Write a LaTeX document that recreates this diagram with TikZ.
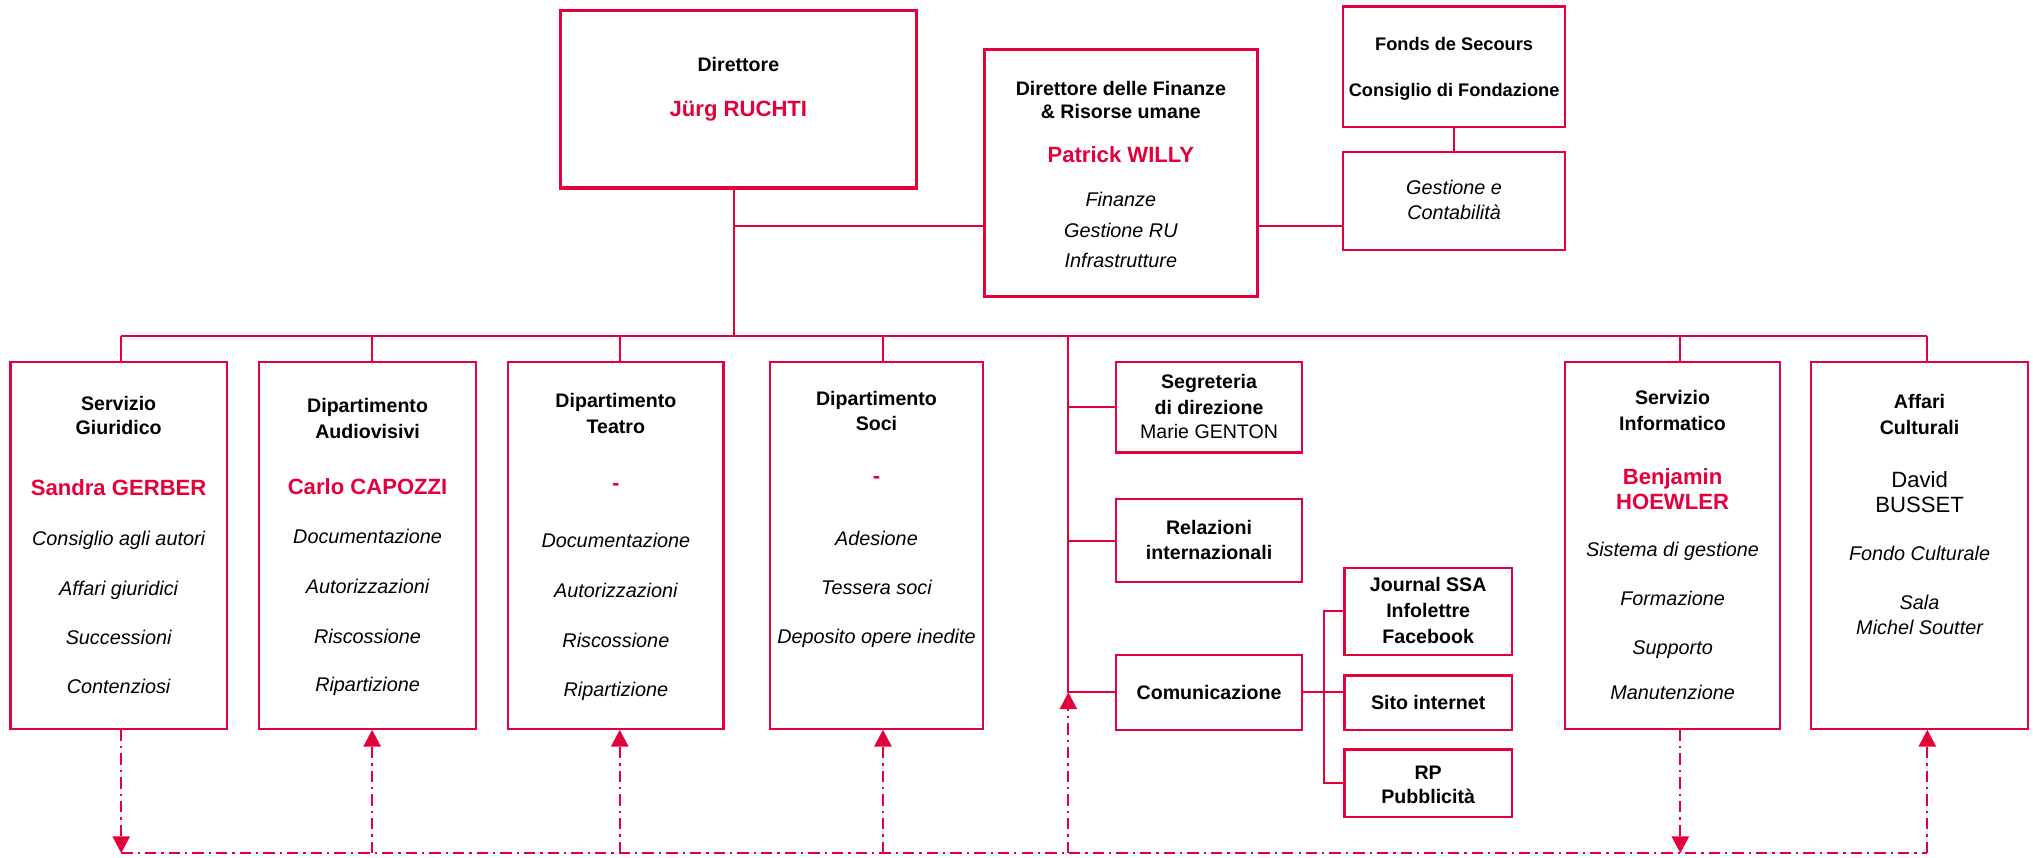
\documentclass[tikz,border=0pt]{standalone}
\usepackage{fontspec}
\setmainfont{Liberation Sans}
\usetikzlibrary{fit,arrows.meta}
\definecolor{ssared}{RGB}{228,0,58}

\begin{document}
\begin{tikzpicture}[x=0.02cm,y=-0.02cm]
\tikzstyle{unit}=[draw=ssared, line width=1pt, inner sep=0pt]
\tikzstyle{chief}=[unit, line width=1.4pt]
\tikzstyle{link}=[draw=ssared, line width=0.8pt]
\tikzstyle{flow}=[draw=ssared, line width=0.8pt, dash pattern=on 5pt off 2.2pt on 1pt off 2.2pt]
\tikzstyle{flowtip}=[flow, -{Triangle[length=7.4pt,width=7.6pt]}]
\tikzstyle{txt}=[inner sep=0pt, anchor=base, yshift=-3.1pt]
\tikzstyle{ttl}=[txt, font=\bfseries\fontsize{8.6}{10}\selectfont]
\tikzstyle{ttlsm}=[txt, font=\bfseries\fontsize{8}{10}\selectfont]
\tikzstyle{who}=[txt, yshift=-0.4pt, text=ssared, font=\bfseries\fontsize{9.7}{11}\selectfont]
\tikzstyle{duty}=[txt, font=\itshape\fontsize{8.7}{10}\selectfont]
\tikzstyle{reg}=[txt, font=\fontsize{8.6}{10}\selectfont]
\tikzstyle{regbig}=[txt, yshift=-0.4pt, font=\fontsize{9.7}{11}\selectfont]
\useasboundingbox (0,0) rectangle (1568,661);

\node[chief, fit={(432,8) (707,145)}] (dir) {};
\node[chief, fit={(759,38) (970,229)}] (fin) {};
\node[unit, fit={(1036,5) (1207,98)}] (fonds) {};
\node[unit, fit={(1036,117) (1207,193)}] (gest) {};

\node[unit, fit={(8,279) (175,562)}] (giur) {};
\node[unit, fit={(200,279) (367,562)}] (audio) {};
\node[unit, fit={(392,279) (558,562)}] (teatro) {};
\node[unit, fit={(594,279) (758,562)}] (soci) {};
\node[unit, fit={(861,279) (1004,349)}] (segr) {};
\node[unit, fit={(861,385) (1004,449)}] (rel) {};
\node[unit, fit={(861,505) (1004,563)}] (comu) {};
\node[unit, fit={(1037,438) (1166,505)}] (journal) {};
\node[unit, fit={(1037,521) (1166,563)}] (sito) {};
\node[unit, fit={(1037,578) (1166,630)}] (rp) {};
\node[unit, fit={(1207,279) (1373,562)}] (info) {};
\node[unit, fit={(1397,279) (1564,562)}] (aff) {};

\foreach \b/\d in {giur/2,audio/3.5,teatro/3,soci/5,info/6,aff/6}{
  \coordinate (\b-top) at ([xshift=\d*0.02cm]\b.north);
  \coordinate (\b-foot) at ([xshift=\d*0.02cm]\b.south);
}
\coordinate (busL) at (giur-top |- 0,259);
\coordinate (busR) at (aff-top |- 0,259);
\coordinate (tee) at (566,174);
\coordinate (trunk) at (824,259);
\coordinate (dashL) at (giur-foot |- 0,658);
\coordinate (dashR) at (aff-foot |- 0,658);

\draw[link] (dir.south -| tee) -- (tee |- busL);
\draw[link] (tee) -- (tee -| fin.west);
\draw[link] (fin.east |- tee) -- (gest.west |- tee);
\draw[link] (fonds) -- (gest);
\draw[link] (busL) -- (busR);
\foreach \b in {giur,audio,teatro,soci,info,aff}
  \draw[link] (\b-top) -- (\b-top |- busL);
\draw[link] (trunk) |- (comu.west);
\draw[link] (trunk |- segr.west) -- (segr.west);
\draw[link] (trunk |- rel.west) -- (rel.west);
\draw[link] (comu.east) -- (comu.east -| sito.west);
\draw[link] (journal.west) -- ++(-15,0) |- (rp.west);

\draw[flow] (dashL) -- (dashR);
\draw[flowtip] (giur-foot) -- (dashL);
\draw[flowtip] (info-foot) -- (info-foot |- dashL);
\foreach \b in {audio,teatro,soci,aff}
  \draw[flowtip] (\b-foot |- dashL) -- (\b-foot);
\draw[flowtip] (trunk |- dashL) -- (trunk |- comu.west);

\foreach \b/\y/\s/\t [count=\i] in {
  dir/50/ttl/Direttore, dir/84/who/Jürg RUCHTI,
  fin/68/ttl/Direttore delle Finanze, fin/86/ttl/\& Risorse umane,
  fin/119.5/who/Patrick WILLY, fin/154/duty/Finanze,
  fin/177.5/duty/Gestione RU, fin/201/duty/Infrastrutture,
  fonds/33.5/ttlsm/Fonds de Secours, fonds/69/ttlsm/Consiglio di Fondazione,
  gest/144.5/duty/Gestione e, gest/164/duty/Contabilità,
  giur/311/ttl/Servizio, giur/330/ttl/Giuridico, giur/376/who/Sandra GERBER,
  giur/415.6/duty/Consiglio agli autori, giur/453.6/duty/Affari giuridici,
  giur/491.8/duty/Successioni, giur/529.8/duty/Contenziosi,
  audio/313/ttl/Dipartimento, audio/332.5/ttl/Audiovisivi,
  audio/375.5/who/Carlo CAPOZZI, audio/414/duty/Documentazione,
  audio/452.6/duty/Autorizzazioni, audio/490.6/duty/Riscossione,
  audio/527.8/duty/Ripartizione,
  teatro/309/ttl/Dipartimento, teatro/329/ttl/Teatro, teatro/372.4/who/-,
  teatro/417/duty/Documentazione, teatro/455.6/duty/Autorizzazioni,
  teatro/493.6/duty/Riscossione, teatro/531.5/duty/Ripartizione,
  soci/307/ttl/Dipartimento, soci/326.4/ttl/Soci, soci/366.4/who/-,
  soci/415/duty/Adesione, soci/452.7/duty/Tessera soci,
  soci/491/duty/Deposito opere inedite,
  segr/294/ttl/Segreteria, segr/314/ttl/di direzione, segr/333/reg/Marie GENTON,
  rel/407/ttl/Relazioni, rel/426/ttl/internazionali,
  comu/534/ttl/Comunicazione,
  journal/451/ttl/Journal SSA, journal/470.5/ttl/Infolettre,
  journal/490.5/ttl/Facebook,
  sito/542/ttl/Sito internet,
  rp/595.5/ttl/RP, rp/614/ttl/Pubblicità,
  info/306.4/ttl/Servizio, info/326.4/ttl/Informatico,
  info/367.6/who/Benjamin, info/386.6/who/HOEWLER,
  info/423.6/duty/Sistema di gestione, info/461.2/duty/Formazione,
  info/499/duty/Supporto, info/533.7/duty/Manutenzione,
  aff/310/ttl/Affari, aff/329.4/ttl/Culturali,
  aff/370/regbig/David, aff/389.5/regbig/BUSSET,
  aff/426.7/duty/Fondo Culturale, aff/464.4/duty/Sala,
  aff/483.6/duty/Michel Soutter}
  \node[\s] (\b-\i) at (\b.center |- 0,\y) {\t};
\end{tikzpicture}
\end{document}
